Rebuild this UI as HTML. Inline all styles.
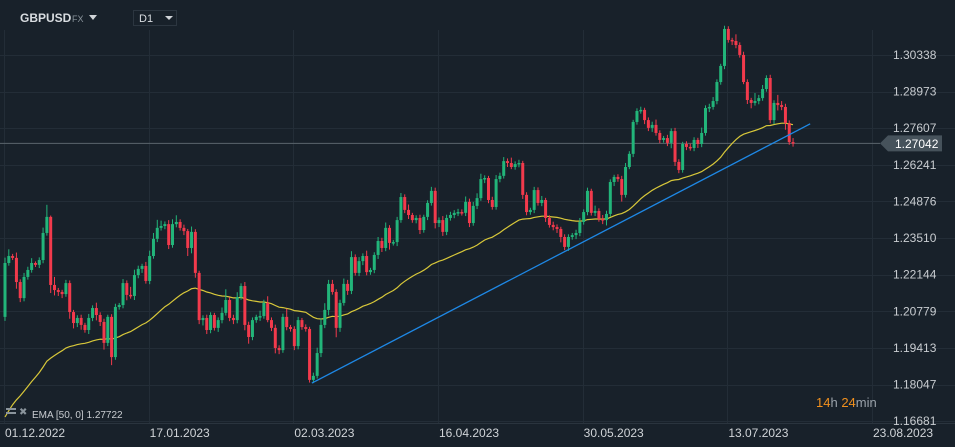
<!DOCTYPE html>
<html><head><meta charset="utf-8"><style>
html,body{margin:0;padding:0;background:#18212a;}
svg{display:block;font-family:"Liberation Sans",sans-serif;}
</style></head><body>
<svg id="chart" width="955" height="447" viewBox="0 0 955 447">
<rect width="955" height="447" fill="#18212a"/>
<g id="grid"></g>
<g id="ema"></g>
<g id="candles"></g>
<g id="trend"></g>
<g id="yaxis"></g>
<g id="xaxis"></g>
<g>
<text x="20" y="22" font-size="12" font-weight="bold" fill="#d8dce0">GBPUSD</text>
<text x="72" y="22" font-size="9" fill="#8a949c">FX</text>
<path d="M89 15 L97 15 L93 20 Z" fill="#d0d4d8"/>
</g>
<g>
<rect x="133.5" y="10.5" width="43" height="15" fill="none" stroke="#2c3640"/>
<text x="139" y="22" font-size="11" fill="#d8dce0">D1</text>
<path d="M165 16 L173 16 L169 20 Z" fill="#d0d4d8"/>
</g>
<g>
<rect x="6" y="408" width="10" height="2" fill="#8a949c"/>
<rect x="6" y="412" width="10" height="2" fill="#8a949c"/>
<text x="19" y="415" font-size="10" fill="#8a949c">✖</text>
<text x="32" y="418" font-size="10" fill="#c8ccd0">EMA [50, 0] 1.27722</text>
</g>
<g>
<text x="816" y="407" font-size="13"><tspan fill="#f0901e">14</tspan><tspan fill="#9aa2aa">h </tspan><tspan fill="#f0901e">24</tspan><tspan fill="#9aa2aa">min</tspan></text>
</g>
</svg>
<script>
const priceTicks=["1.30338","1.28973","1.27607","1.26241","1.24876","1.23510","1.22144","1.20779","1.19413","1.18047","1.16681"];
const dateTicks=["01.12.2022","17.01.2023","02.03.2023","16.04.2023","30.05.2023","13.07.2023","23.08.2023"];
const dateTickIndex=[0,38,76,114,152,190,228];
const firstOpen=1.2057;
const closes=[1.2258,1.2284,1.2277,1.2187,1.2127,1.2206,1.2232,1.2258,1.2251,1.2269,
1.2370,1.2430,1.2176,1.2157,1.2150,1.2142,1.2183,1.2075,1.2034,1.2053,
1.2027,1.2008,1.2053,1.2090,1.2064,1.2038,1.1960,1.2057,1.1907,1.2094,
1.2101,1.2183,1.2139,1.2135,1.2213,1.2236,1.2247,1.2191,1.2284,1.2348,
1.2389,1.2396,1.2403,1.2325,1.2403,1.2411,1.2389,1.2377,1.2314,1.2374,
1.2221,1.2045,1.2053,1.2008,1.2064,1.2016,1.2045,1.2072,1.2120,1.2053,
1.2045,1.2131,1.2172,1.2027,1.1982,1.2045,1.2057,1.2060,1.2109,1.2045,
1.2016,1.1941,1.1933,1.2057,1.2019,1.2012,1.1948,1.2045,1.2019,1.2012,
1.1822,1.1837,1.1922,1.2027,1.2083,1.2180,1.2150,1.2016,1.2109,1.2180,
1.2154,1.2280,1.2221,1.2265,1.2284,1.2224,1.2232,1.2288,1.2340,1.2314,
1.2389,1.2333,1.2336,1.2418,1.2504,1.2456,1.2437,1.2418,1.2426,1.2381,
1.2430,1.2482,1.2527,1.2407,1.2418,1.2374,1.2426,1.2437,1.2445,1.2448,
1.2445,1.2486,1.2407,1.2471,1.2500,1.2571,1.2575,1.2493,1.2467,1.2571,
1.2583,1.2638,1.2631,1.2616,1.2627,1.2631,1.2512,1.2448,1.2456,1.2530,
1.2482,1.2493,1.2426,1.2400,1.2392,1.2385,1.2355,1.2318,1.2355,1.2362,
1.2370,1.2411,1.2448,1.2527,1.2445,1.2452,1.2422,1.2418,1.2441,1.2560,
1.2579,1.2571,1.2512,1.2616,1.2665,1.2784,1.2825,1.2829,1.2791,1.2762,
1.2773,1.2743,1.2717,1.2724,1.2706,1.2750,1.2635,1.2605,1.2702,1.2691,
1.2687,1.2717,1.2702,1.2743,1.2836,1.2840,1.2862,1.2933,1.2993,1.3131,
1.3090,1.3086,1.3071,1.3034,1.2933,1.2866,1.2855,1.2862,1.2873,1.2907,
1.2948,1.2791,1.2855,1.2847,1.2840,1.2780,1.2709,1.2704];
const wickUp=[20,25,8,20,10,15,12,18,6,10,20,45,5,30,8,8,12,10,8,10,
12,8,15,10,20,10,12,8,10,12,8,15,10,30,20,12,8,15,20,22,
30,20,10,15,18,25,10,12,8,20,10,8,10,12,10,8,10,20,40,10,
12,18,10,15,12,10,8,20,12,25,10,12,10,12,30,8,10,12,8,10,
8,12,20,25,25,15,15,10,12,20,15,22,10,15,10,20,8,10,15,12,
20,10,8,12,15,10,20,8,10,12,8,10,15,12,10,15,12,12,10,12,
10,20,12,15,18,20,10,8,12,15,12,15,10,20,10,12,8,10,8,12,
10,15,8,10,12,10,8,10,10,8,12,15,10,12,8,20,10,15,12,10,
8,10,12,15,10,8,10,12,8,10,12,20,10,8,12,10,12,10,8,10,
12,10,8,20,10,12,15,10,8,12,10,8,25,10,12,10,8,30,12,15,
10,12,10,30,15,12,10,15,12,8,12,10];
const wickDn=[15,10,8,25,15,12,10,10,8,12,12,10,30,20,15,15,10,25,20,15,
18,10,15,12,20,15,25,12,30,10,10,12,20,10,15,12,15,10,12,10,
12,10,12,15,10,12,10,15,30,20,18,15,20,15,12,10,15,12,10,12,
15,12,10,20,25,12,10,15,10,8,12,20,15,10,12,10,15,12,10,10,
10,12,10,15,12,20,10,35,15,10,15,12,10,12,15,12,10,12,15,15,
12,25,10,15,10,12,15,10,12,15,10,12,10,20,15,15,12,10,12,12,
10,12,15,10,12,10,15,12,10,10,12,10,15,8,10,12,15,12,10,12,
10,12,15,10,12,15,20,12,15,10,15,12,10,12,10,12,10,15,20,10,
15,10,25,10,8,12,10,10,15,12,15,10,12,10,12,20,15,12,10,12,
10,12,15,12,10,15,10,12,10,12,10,15,12,10,8,15,20,10,12,10,
10,12,15,20,12,25,10,12,20,15,12,12];
const trendIdx=[80.6,211.5];
const trendPrice=[1.1810,1.2777];
const emaPeriod=50;
const emaSeed=1.1660;
const lastPrice=1.27042;

const NS="http://www.w3.org/2000/svg";
const x0=5, step=3.807;
const yTop=55, yTopPrice=1.30338, pxPer=0.000373;
function X(i){return x0+i*step;}
function Y(p){return yTop+(yTopPrice-p)/pxPer;}
function mk(tag,attrs,parent){const e=document.createElementNS(NS,tag);for(const k in attrs)e.setAttribute(k,attrs[k]);parent.appendChild(e);return e;}

const grid=document.getElementById('grid');
priceTicks.forEach(t=>{
  const y=Math.round(Y(parseFloat(t)))+0.5;
  const l=mk('line',{x1:0,x2:955,y1:y,y2:y,stroke:'#232d37','stroke-width':1},grid);
  
  
});
dateTickIndex.forEach(i=>{
  const x=Math.round(X(i)-1)+0.5;
  const l=mk('line',{x1:x,x2:x,y1:30,y2:423,stroke:'#232d37','stroke-width':1},grid);
  
  
});
const ax=mk('line',{x1:0,x2:955,y1:423.5,y2:423.5,stroke:'#2a343e','stroke-width':1},grid);



const emaG=document.getElementById('ema');
let e=emaSeed,pts=[];const k=2/(emaPeriod+1);
closes.forEach((c,i)=>{e=c*k+e*(1-k);pts.push(X(i).toFixed(1)+','+Y(e).toFixed(1));});
const pl=mk('polyline',{points:pts.join(' '),fill:'none',stroke:'#d8c83a','stroke-width':1.2},emaG);



const pline=mk('line',{x1:0,x2:880,y1:Y(lastPrice),y2:Y(lastPrice),stroke:'#5a646c','stroke-width':1},grid);



const cg=document.getElementById('candles');
closes.forEach((c,i)=>{
  const o=i===0?firstOpen:closes[i-1];
  const up=c>=o;
  const col=up?'#22b57a':'#f23a4c';
  const hi=Math.max(o,c)+wickUp[i]*0.0001;
  const lo=Math.min(o,c)-wickDn[i]*0.0001;
  const x=X(i);
  const w=mk('line',{x1:x,x2:x,y1:Y(hi),y2:Y(lo),stroke:col,'stroke-width':1},cg);
  
  
  const yt=Y(Math.max(o,c)),yb=Y(Math.min(o,c));
  const b=mk('rect',{x:x-1.5,y:yt,width:3,height:Math.max(1.5,yb-yt),fill:col},cg);
  
  
});

const tg=document.getElementById('trend');
const tl=mk('line',{x1:X(trendIdx[0]),y1:Y(trendPrice[0]),x2:X(trendIdx[1]),y2:Y(trendPrice[1]),stroke:'#1e88e5','stroke-width':1.3},tg);



const ya=document.getElementById('yaxis');
priceTicks.forEach(t=>{
  const tx=mk('text',{x:893,y:Y(parseFloat(t))+4,'font-size':12,fill:'#c8ccd0'},ya);
  tx.textContent=t;
  
  
});
const ly=Y(lastPrice);
const tag=mk('path',{d:`M880 ${ly} L888 ${ly-8} L942 ${ly-8} L942 ${ly+8} L888 ${ly+8} Z`,fill:'#46525b'},ya);


const lt=mk('text',{x:895,y:ly+4.5,'font-size':12,fill:'#ffffff'},ya);
lt.textContent=lastPrice.toFixed(5);



const xa=document.getElementById('xaxis');
dateTicks.forEach((d,j)=>{
  const tx=mk('text',{x:X(dateTickIndex[j]),y:437,'font-size':12,fill:'#d0d4d8'},xa);
  tx.textContent=d;
  
  
});
</script>
</body></html>
